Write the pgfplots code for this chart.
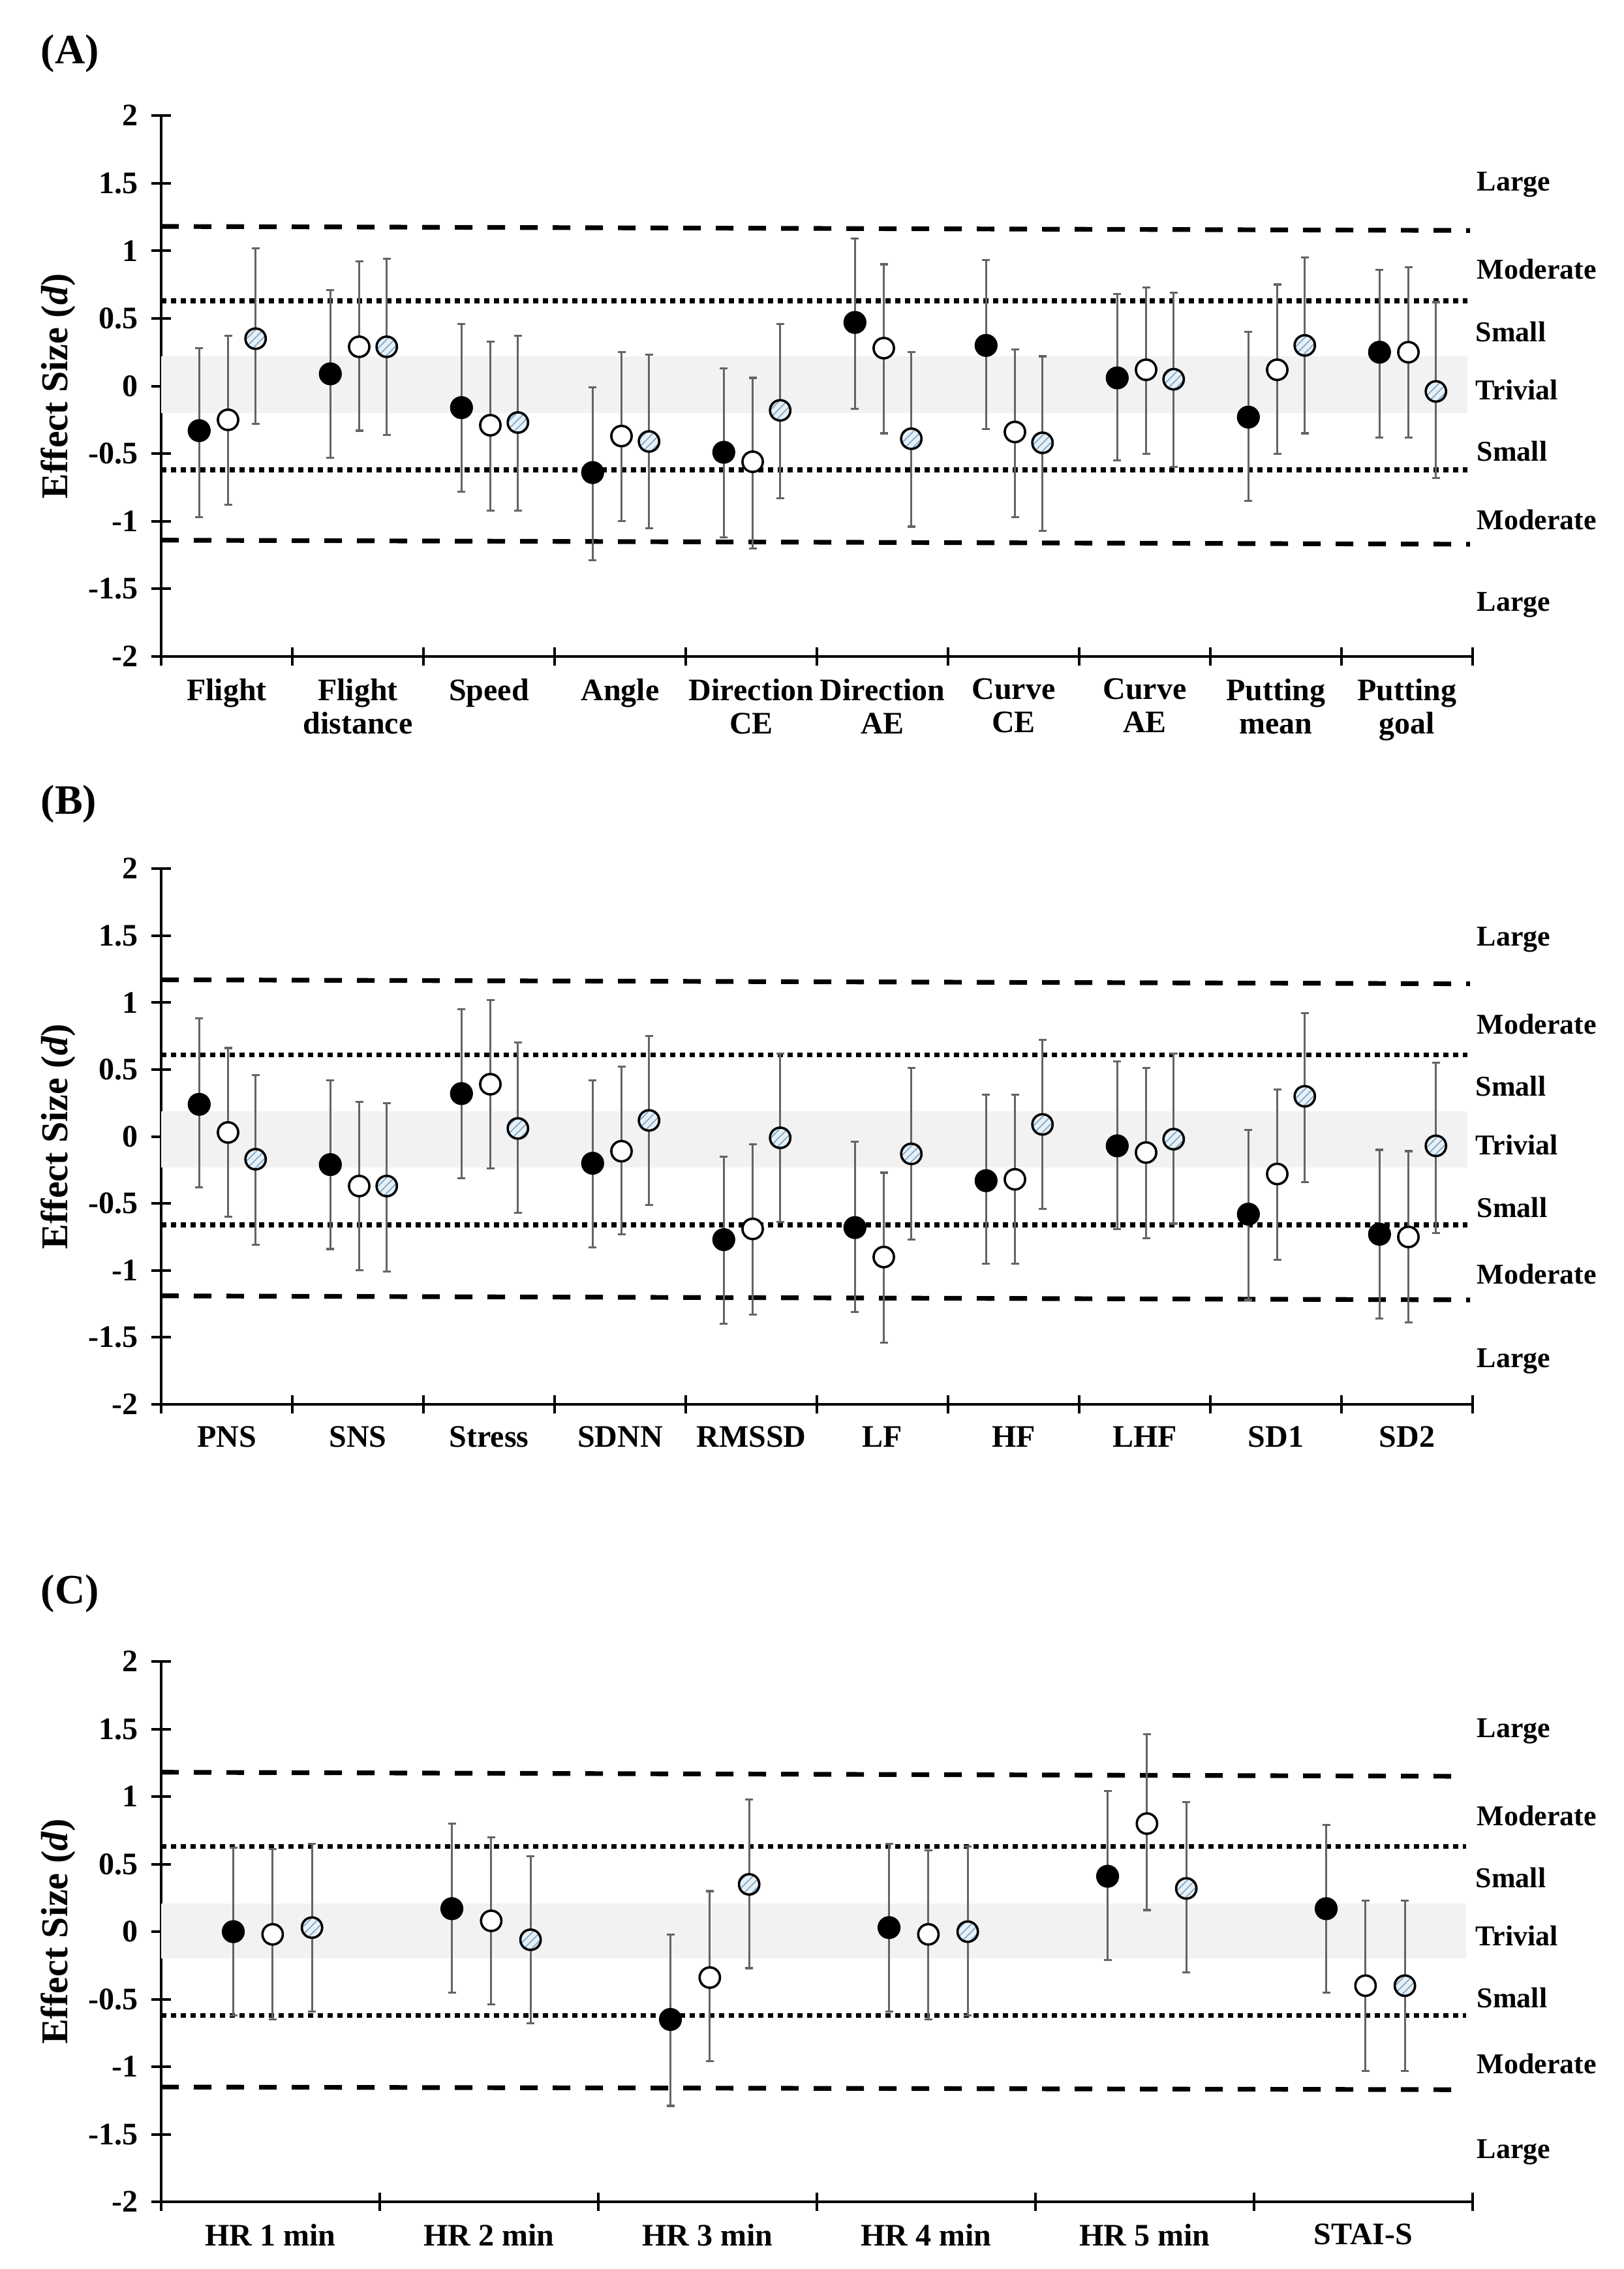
\documentclass[border=0pt]{standalone}
\usepackage{fontspec}
\setmainfont{Liberation Serif}
\usepackage{pgfplots}
\usepackage{pgfplotstable}
\pgfplotsset{compat=1.18}
\usetikzlibrary{patterns}

\definecolor{errgray}{RGB}{100,100,100}
\definecolor{bandgray}{RGB}{242,242,242}
\definecolor{hatchbg}{RGB}{232,240,246}
\definecolor{hatchln}{RGB}{120,165,200}

% hatched circle marker
\pgfdeclareplotmark{hatchcirc}{%
  \pgfpathcircle{\pgfpointorigin}{\pgfplotmarksize}%
  \pgfsetfillcolor{hatchbg}\pgfusepathqfill
  \begin{pgfscope}
    \pgfpathcircle{\pgfpointorigin}{\pgfplotmarksize}%
    \pgfsetfillpattern{north east lines}{hatchln}%
    \pgfusepathqfill
  \end{pgfscope}
  \pgfpathcircle{\pgfpointorigin}{\pgfplotmarksize}%
  \pgfusepathqstroke
}

\newcommand\tickfont{\bfseries\fontsize{12}{14}\selectfont}
\newcommand\catfont{\bfseries\fontsize{12}{12.8}\selectfont}
\newcommand\lblfont{\bfseries\fontsize{11}{13}\selectfont}

% ---- panel A ----
\pgfplotstableread{
c y lo hi
0 -0.33 -0.97 0.28
1 0.09 -0.53 0.71
2 -0.16 -0.78 0.46
3 -0.64 -1.29 -0.01
4 -0.49 -1.12 0.13
5 0.47 -0.17 1.09
6 0.30 -0.32 0.93
7 0.06 -0.55 0.68
8 -0.23 -0.85 0.40
9 0.25 -0.38 0.86
}\Ablack
\pgfplotstableread{
c y lo hi
0 -0.25 -0.88 0.37
1 0.29 -0.33 0.92
2 -0.29 -0.92 0.33
3 -0.37 -1.00 0.25
4 -0.56 -1.20 0.06
5 0.28 -0.35 0.90
6 -0.34 -0.97 0.27
7 0.12 -0.50 0.73
8 0.12 -0.50 0.75
9 0.25 -0.38 0.88
}\Awhite
\pgfplotstableread{
c y lo hi
0 0.35 -0.28 1.02
1 0.29 -0.36 0.94
2 -0.27 -0.92 0.37
3 -0.41 -1.05 0.23
4 -0.18 -0.83 0.46
5 -0.39 -1.04 0.25
6 -0.42 -1.07 0.22
7 0.05 -0.60 0.69
8 0.30 -0.35 0.95
9 -0.04 -0.68 0.62
}\Ahatch

% ---- panel B ----
\pgfplotstableread{
c y lo hi
0 0.24 -0.38 0.88
1 -0.21 -0.84 0.42
2 0.32 -0.31 0.95
3 -0.20 -0.83 0.42
4 -0.77 -1.40 -0.15
5 -0.68 -1.31 -0.04
6 -0.33 -0.95 0.31
7 -0.07 -0.69 0.56
8 -0.58 -1.22 0.05
9 -0.73 -1.36 -0.10
}\Bblack
\pgfplotstableread{
c y lo hi
0 0.03 -0.60 0.66
1 -0.37 -1.00 0.26
2 0.39 -0.24 1.02
3 -0.11 -0.73 0.52
4 -0.69 -1.33 -0.06
5 -0.90 -1.54 -0.27
6 -0.32 -0.95 0.31
7 -0.12 -0.76 0.51
8 -0.28 -0.92 0.35
9 -0.75 -1.39 -0.11
}\Bwhite
\pgfplotstableread{
c y lo hi
0 -0.17 -0.81 0.46
1 -0.37 -1.01 0.25
2 0.06 -0.57 0.70
3 0.12 -0.51 0.75
4 -0.01 -0.64 0.62
5 -0.13 -0.77 0.51
6 0.09 -0.54 0.72
7 -0.02 -0.65 0.62
8 0.30 -0.34 0.92
9 -0.07 -0.72 0.55
}\Bhatch

% ---- panel C ----
\pgfplotstableread{
c y lo hi
0 0.00 -0.62 0.62
1 0.17 -0.45 0.80
2 -0.65 -1.29 -0.02
3 0.03 -0.59 0.65
4 0.41 -0.21 1.04
5 0.17 -0.45 0.79
}\Cblack
\pgfplotstableread{
c y lo hi
0 -0.02 -0.65 0.61
1 0.08 -0.54 0.70
2 -0.34 -0.96 0.30
3 -0.02 -0.65 0.60
4 0.80 0.16 1.46
5 -0.40 -1.03 0.23
}\Cwhite
\pgfplotstableread{
c y lo hi
0 0.03 -0.59 0.65
1 -0.06 -0.68 0.56
2 0.35 -0.27 0.98
3 0.00 -0.62 0.63
4 0.32 -0.30 0.96
5 -0.40 -1.03 0.23
}\Chatch

\pgfplotsset{
  esaxis/.style={
    scale only axis, width=502.5pt, anchor=south west,
    ymin=-2, ymax=2, xmin=0,
    axis lines*=left, axis line style={line width=1pt},
    tick align=center, clip=false,
    ytick={-2,-1.5,-1,-0.5,0,0.5,1,1.5,2},
    yticklabels={-2,-1.5,-1,-0.5,0,0.5,1,1.5,2},
    major tick length=7.5pt, minor tick length=7pt,
    y tick style={line width=1pt, black},
    major x tick style={draw=none},
    minor x tick style={line width=1pt, black},
    yticklabel style={font=\tickfont, inner sep=0pt, xshift=-5pt},
    xticklabel style={font=\catfont, align=center, inner sep=0pt, anchor=north, yshift=-4.5pt},
    ylabel={Effect Size (\textit{d})},
    ylabel style={font=\bfseries\fontsize{14.5}{16}\selectfont, at={(axis description cs:-0.0786,0.5)}, anchor=center},
  },
  ebars/.style={error bars/.cd, y dir=both, y explicit,
    error bar style={line width=0.75pt, draw=errgray},
    error mark options={rotate=90, draw=errgray, line width=0.8pt, mark size=1.5pt}},
  mkblack/.style={black, only marks, mark=*, mark size=4.2pt, mark options={fill=black}, ebars},
  mkwhite/.style={black, only marks, mark=*, mark size=3.9pt, mark options={fill=white, line width=0.9pt}, ebars},
  mkhatch/.style={black, only marks, mark=hatchcirc, mark size=3.9pt, mark options={line width=0.9pt}, ebars},
  bigdash/.style={black, mark=none, line width=1.8pt, dash pattern=on 6.75pt off 5.75pt},
  smalldot/.style={black, mark=none, line width=1.8pt, dash pattern=on 1.9pt off 1.85pt},
  band/.style={draw=none, fill=bandgray, mark=none},
}
\tikzset{sz/.style={anchor=west, font=\lblfont, inner sep=0pt, xshift=1.5pt}}

\begin{document}
\begin{tikzpicture}
\useasboundingbox (0,0) rectangle (622pt,-869.25pt);

\node[anchor=west, inner sep=0pt, font=\bfseries\fontsize{16}{18}\selectfont] at (15.5pt,-20.5pt) {(A)};
\node[anchor=west, inner sep=0pt, font=\bfseries\fontsize{16}{18}\selectfont] at (15.5pt,-308pt) {(B)};
\node[anchor=west, inner sep=0pt, font=\bfseries\fontsize{16}{18}\selectfont] at (15.5pt,-610.5pt) {(C)};

% ================= A =================
\begin{axis}[esaxis, at={(61.75pt,-251.5pt)}, height=207.25pt, xmax=10,
  xtick={0.5,1.5,...,9.5}, minor xtick={0,1,...,10},
  xticklabels={Flight,{Flight\\distance},Speed,Angle,{Direction\\CE},{Direction\\AE},{Curve\\CE},{Curve\\AE},{Putting\\mean},{Putting\\goal}}]
\addplot[band] coordinates {(0,-0.20) (0,0.22) (9.96,0.22) (9.96,-0.20)};
\addplot[bigdash] coordinates {(0,1.18) (9.98,1.15)};
\addplot[bigdash] coordinates {(0,-1.14) (9.98,-1.17)};
\addplot[smalldot] coordinates {(0,0.63) (9.96,0.63)};
\addplot[smalldot] coordinates {(0,-0.62) (9.96,-0.62)};
\addplot[mkblack] table[x expr=\thisrow{c}+0.29, y=y, y error plus expr=\thisrow{hi}-\thisrow{y}, y error minus expr=\thisrow{y}-\thisrow{lo}] {\Ablack};
\addplot[mkwhite] table[x expr=\thisrow{c}+0.51, y=y, y error plus expr=\thisrow{hi}-\thisrow{y}, y error minus expr=\thisrow{y}-\thisrow{lo}] {\Awhite};
\addplot[mkhatch] table[x expr=\thisrow{c}+0.72, y=y, y error plus expr=\thisrow{hi}-\thisrow{y}, y error minus expr=\thisrow{y}-\thisrow{lo}] {\Ahatch};
\node[sz] at (axis cs:10,1.49) {Large};
\node[sz] at (axis cs:10,0.865) {Moderate};
\node[sz, xshift=-0.5pt] at (axis cs:10,0.40) {Small};
\node[sz, xshift=-0.5pt] at (axis cs:10,-0.03) {Trivial};
\node[sz] at (axis cs:10,-0.48) {Small};
\node[sz] at (axis cs:10,-0.99) {Moderate};
\node[sz] at (axis cs:10,-1.62) {Large};
\end{axis}

% ================= B =================
\begin{axis}[esaxis, at={(61.75pt,-538pt)}, height=205.25pt, xmax=10,
  xtick={0.5,1.5,...,9.5}, minor xtick={0,1,...,10},
  xticklabels={PNS,SNS,Stress,SDNN,RMSSD,LF,HF,LHF,SD1,SD2}]
\addplot[band] coordinates {(0,-0.23) (0,0.19) (9.96,0.19) (9.96,-0.23)};
\addplot[bigdash] coordinates {(0,1.17) (9.98,1.14)};
\addplot[bigdash] coordinates {(0,-1.19) (9.98,-1.22)};
\addplot[smalldot] coordinates {(0,0.61) (9.96,0.61)};
\addplot[smalldot] coordinates {(0,-0.66) (9.96,-0.66)};
\addplot[mkblack] table[x expr=\thisrow{c}+0.29, y=y, y error plus expr=\thisrow{hi}-\thisrow{y}, y error minus expr=\thisrow{y}-\thisrow{lo}] {\Bblack};
\addplot[mkwhite] table[x expr=\thisrow{c}+0.51, y=y, y error plus expr=\thisrow{hi}-\thisrow{y}, y error minus expr=\thisrow{y}-\thisrow{lo}] {\Bwhite};
\addplot[mkhatch] table[x expr=\thisrow{c}+0.72, y=y, y error plus expr=\thisrow{hi}-\thisrow{y}, y error minus expr=\thisrow{y}-\thisrow{lo}] {\Bhatch};
\node[sz] at (axis cs:10,1.47) {Large};
\node[sz] at (axis cs:10,0.84) {Moderate};
\node[sz, xshift=-0.5pt] at (axis cs:10,0.375) {Small};
\node[sz, xshift=-0.5pt] at (axis cs:10,-0.065) {Trivial};
\node[sz] at (axis cs:10,-0.53) {Small};
\node[sz] at (axis cs:10,-1.03) {Moderate};
\node[sz] at (axis cs:10,-1.68) {Large};
\end{axis}

% ================= C =================
\begin{axis}[esaxis, at={(61.75pt,-843.5pt)}, height=207pt, xmax=6,
  xtick={0.5,1.5,...,5.5}, minor xtick={0,1,...,6},
  xticklabels={HR 1 min,HR 2 min,HR 3 min,HR 4 min,HR 5 min,STAI-S}]
\addplot[band] coordinates {(0,-0.20) (0,0.21) (5.97,0.21) (5.97,-0.20)};
\addplot[bigdash] coordinates {(0,1.18) (5.97,1.15)};
\addplot[bigdash] coordinates {(0,-1.15) (5.97,-1.17)};
\addplot[smalldot] coordinates {(0,0.63) (5.97,0.63)};
\addplot[smalldot] coordinates {(0,-0.62) (5.97,-0.62)};
\addplot[mkblack] table[x expr=\thisrow{c}+0.33, y=y, y error plus expr=\thisrow{hi}-\thisrow{y}, y error minus expr=\thisrow{y}-\thisrow{lo}] {\Cblack};
\addplot[mkwhite] table[x expr=\thisrow{c}+0.51, y=y, y error plus expr=\thisrow{hi}-\thisrow{y}, y error minus expr=\thisrow{y}-\thisrow{lo}] {\Cwhite};
\addplot[mkhatch] table[x expr=\thisrow{c}+0.69, y=y, y error plus expr=\thisrow{hi}-\thisrow{y}, y error minus expr=\thisrow{y}-\thisrow{lo}] {\Chatch};
\node[sz] at (axis cs:6,1.485) {Large};
\node[sz] at (axis cs:6,0.86) {Moderate};
\node[sz, xshift=-0.5pt] at (axis cs:6,0.40) {Small};
\node[sz, xshift=-0.5pt] at (axis cs:6,-0.03) {Trivial};
\node[sz] at (axis cs:6,-0.49) {Small};
\node[sz] at (axis cs:6,-0.98) {Moderate};
\node[sz] at (axis cs:6,-1.63) {Large};
\end{axis}
\end{tikzpicture}
\end{document}
